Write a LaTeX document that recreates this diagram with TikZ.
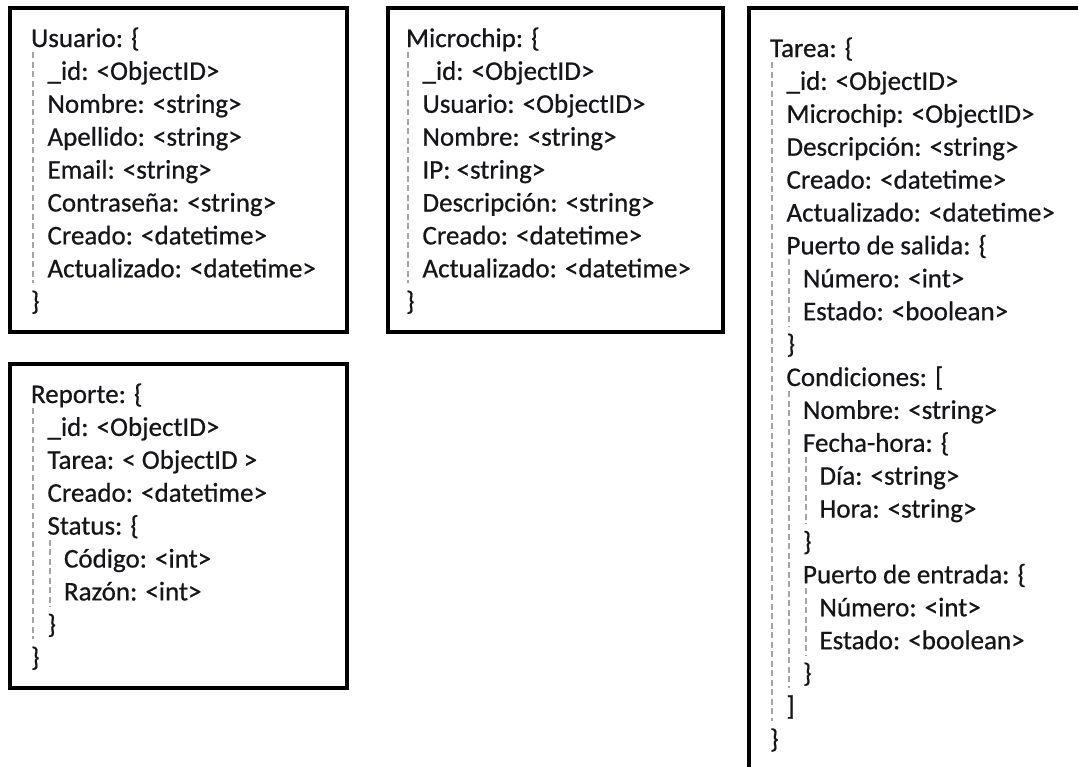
\documentclass[tikz,border=0pt]{standalone}
\usepackage{fontspec}
\setmainfont[FakeBold=0.6]{Carlito}
\definecolor{txt}{RGB}{22,22,26}
\definecolor{guidecol}{RGB}{165,165,165}
\tikzset{
  entry/.style={anchor=base west, inner sep=0pt, outer sep=0pt, text=txt,
    font=\fontsize{27}{33}\selectfont},
  frame/.style={draw=black, line width=3.2pt},
  guide/.style={draw=guidecol, line width=2.2pt, dash pattern=on 6pt off 3.5pt},
}
\begin{document}
\begin{tikzpicture}[x=1pt,y=-1pt]
\useasboundingbox (0,0) rectangle (1078,766);
\fill[white] (0,0) rectangle (1078,766);
% frames
\draw[frame] (10,8) rectangle (347,332);
\draw[frame] (388,8) rectangle (723,332);
\draw[frame] (749,8) rectangle (1095,785);
\draw[frame] (10,364) rectangle (347,688);
% Usuario
\foreach \lv/\t [count=\i from 0] in {0/Usuario: \{, 1/\_id: <ObjectID>, 1/Nombre: <string>, 1/Apellido: <string>, 1/Email: <string>, 1/Contraseña: <string>, 1/Creado: <datetime>, 1/Actualizado: <datetime>, 0/\}}
  \node[entry] (u\i) at ({31+16.5*\lv},{47+32.9*\i}) {\t};
% Microchip
\foreach \lv/\t [count=\i from 0] in {0/Microchip: \{, 1/\_id: <ObjectID>, 1/Usuario: <ObjectID>, 1/Nombre: <string>, 1/IP: <string>, 1/Descripción: <string>, 1/Creado: <datetime>, 1/Actualizado: <datetime>, 0/\}}
  \node[entry] (m\i) at ({406+16.5*\lv},{47+32.9*\i}) {\t};
% Tarea
\foreach \lv/\t [count=\i from 0] in {0/Tarea: \{, 1/\_id: <ObjectID>, 1/Microchip: <ObjectID>, 1/Descripción: <string>, 1/Creado: <datetime>, 1/Actualizado: <datetime>, 1/Puerto de salida: \{, 2/Número: <int>, 2/Estado: <boolean>, 1/\}, 1/Condiciones: [, 2/Nombre: <string>, 2/Fecha-hora: \{, 3/Día: <string>, 3/Hora: <string>, 2/\}, 2/Puerto de entrada: \{, 3/Número: <int>, 3/Estado: <boolean>, 2/\}, 1/], 0/\}}
  \node[entry] (t\i) at ({770+16.5*\lv},{57+32.9*\i}) {\t};
% Reporte
\foreach \lv/\t [count=\i from 0] in {0/Reporte: \{, 1/\_id: <ObjectID>, 1/Tarea: < ObjectID >, 1/Creado: <datetime>, 1/Status: \{, 2/Código: <int>, 2/Razón: <int>, 1/\}, 0/\}}
  \node[entry] (r\i) at ({31+16.5*\lv},{403+32.9*\i}) {\t};
% guides
\draw[guide] (33,{47+5}) -- (33,{47+32.9*7+6});
\draw[guide] (408,{47+5}) -- (408,{47+32.9*7+6});
\draw[guide] (772,{57+5}) -- (772,{57+32.9*20+6});
\draw[guide] (789,{57+32.9*6+5}) -- (789,{57+32.9*8+6});
\draw[guide] (789,{57+32.9*10+5}) -- (789,{57+32.9*19+6});
\draw[guide] (806,{57+32.9*12+5}) -- (806,{57+32.9*14+6});
\draw[guide] (806,{57+32.9*16+5}) -- (806,{57+32.9*18+6});
\draw[guide] (33,{403+5}) -- (33,{403+32.9*7+6});
\draw[guide] (50,{403+32.9*4+5}) -- (50,{403+32.9*6+6});
\end{tikzpicture}
\end{document}
